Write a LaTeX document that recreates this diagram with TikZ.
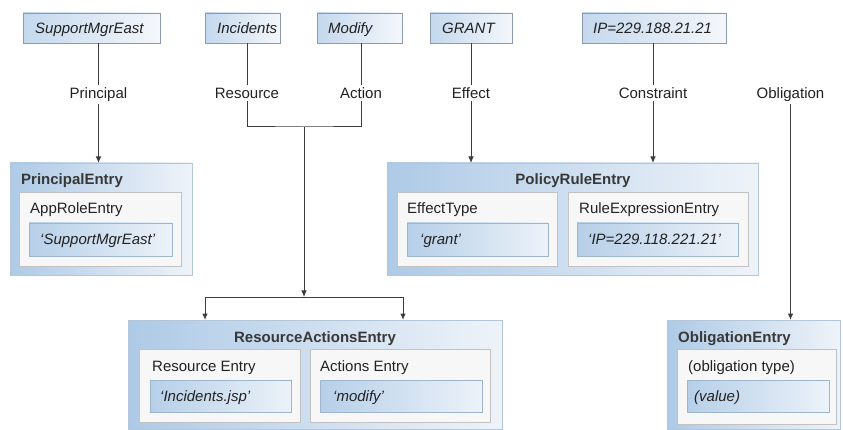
\documentclass[tikz,border=0pt]{standalone}
\usepackage{fontspec}
\setmainfont{Liberation Sans}
\usetikzlibrary{arrows.meta,fit,shadows}
\definecolor{obL}{HTML}{AECAE6}
\definecolor{obR}{HTML}{EEF3F9}
\definecolor{obLine}{HTML}{B4C7DA}
\definecolor{ibFill}{HTML}{F7F7F7}
\definecolor{ibLine}{HTML}{C2C2C2}
\definecolor{vbL}{HTML}{B6CFE8}
\definecolor{vbR}{HTML}{ECF2F9}
\definecolor{vbLine}{HTML}{9DB5CD}
\definecolor{tbL}{HTML}{C4D8ED}
\definecolor{tbR}{HTML}{F4F7FB}
\definecolor{tbLine}{HTML}{8C9BAB}
\definecolor{conn}{HTML}{3C3C3C}
\definecolor{txt}{HTML}{222222}
\tikzset{
  softshadow/.style={drop shadow={shadow xshift=0.8pt,shadow yshift=-1.2pt,opacity=0.3}},
  anybox/.style={inner sep=0pt,outer sep=0pt,line width=0.8pt},
  topbox/.style={anybox,draw=tbLine,left color=tbL,right color=tbR,softshadow},
  outerbox/.style={anybox,draw=obLine,left color=obL,right color=obR,softshadow},
  innerbox/.style={anybox,draw=ibLine,fill=ibFill,softshadow},
  valbox/.style={anybox,draw=vbLine,left color=vbL,right color=vbR,softshadow},
  txtl/.style={anchor=base west,inner sep=0pt,text=txt},
  txtc/.style={anchor=base,inner sep=0pt,text=txt},
  lbl/.style={anchor=base,inner sep=2.5pt,text=txt},
  title/.style={inner sep=0pt,text=txt!90,font=\fontsize{15}{18}\selectfont\bfseries},
  conline/.style={draw=conn,line width=1pt},
  arr/.style={conline,-{Latex[length=6.5pt,width=5.5pt]}},
  biarr/.style={conline,{Latex[length=6.5pt,width=5.5pt]}-{Latex[length=6.5pt,width=5.5pt]}},
}
\begin{document}
\begin{tikzpicture}[x=1pt,y=-1pt,font=\fontsize{15}{18}\selectfont]
\useasboundingbox (0,0) rectangle (843,430);
\fill[white] (0,0) rectangle (843,430);

% top boxes
\node[topbox,fit={(23,13) (160,43)}] (sme) {};
\node[txtl] (tsme) at (35,33.5) {\itshape SupportMgrEast};
\node[topbox,fit={(205,13) (280,43)}] (inc) {};
\node[txtl] (tinc) at (217,33.5) {\itshape Incidents};
\node[topbox,fit={(317,13) (402,43)}] (mod) {};
\node[txtl] (tmod) at (328,33.5) {\itshape Modify};
\node[topbox,fit={(430,13) (512,43)}] (grant) {};
\node[txtl] (tgrant) at (442,33.5) {\itshape GRANT};
\node[topbox,fit={(582,13) (726,43)}] (ip) {};
\node[txtl] (tip) at (593,33.5) {\itshape IP=229.188.21.21};

% labels
\node[lbl] (lPrin) at (98.5,98.5) {Principal};
\node[lbl] (lRes) at (247,98.5) {Resource};
\node[lbl] (lAct) at (361,98.5) {Action};
\node[lbl] (lEff) at (471,98.5) {Effect};
\node[lbl] (lCon) at (653,98.5) {Constraint};
\node[lbl] (lObl) at (790.5,98.5) {Obligation};

% PrincipalEntry
\node[outerbox,fit={(10,163) (192,275)}] (pe) {};
\node[title,anchor=base west] (tpe) at (21,184.5) {PrincipalEntry};
\node[innerbox,fit={(19,192) (181,266)}] (are) {};
\node[txtl] (tare) at (30,213.5) {AppRoleEntry};
\node[valbox,fit={(29,223) (172,256)}] (vare) {};
\node[txtl] (tvare) at (40,245) {\itshape ‘SupportMgrEast’};

% PolicyRuleEntry
\node[outerbox,fit={(387,163) (758,275)}] (pre) {};
\node[title,anchor=base] (tpre) at (573,184.5) {PolicyRuleEntry};
\node[innerbox,fit={(397,192) (557,266)}] (et) {};
\node[txtl] (tet) at (407,213.5) {EffectType};
\node[valbox,fit={(407,223) (548,256)}] (vet) {};
\node[txtl] (tvet) at (420,245) {\itshape ‘grant’};
\node[innerbox,fit={(568,192) (748,266)}] (ree) {};
\node[txtl] (tree) at (579,213.5) {RuleExpressionEntry};
\node[valbox,fit={(577,223) (738,256)}] (vree) {};
\node[txtl] (tvree) at (588,245) {\itshape ‘IP=229.118.221.21’};

% ResourceActionsEntry
\node[outerbox,fit={(128,320) (502,429)}] (rae) {};
\node[title,anchor=base] (trae) at (315,342.5) {ResourceActionsEntry};
\node[innerbox,fit={(139,349) (300,422)}] (re) {};
\node[txtl] (tre) at (152,371) {Resource Entry};
\node[valbox,fit={(150,380) (291,412)}] (vre) {};
\node[txtl] (tvre) at (160,401.5) {\itshape ‘Incidents.jsp’};
\node[innerbox,fit={(310,349) (490,422)}] (ae) {};
\node[txtl] (tae) at (320,371) {Actions Entry};
\node[valbox,fit={(320,380) (482,412)}] (vae) {};
\node[txtl] (tvae) at (333,401.5) {\itshape ‘modify’};

% ObligationEntry
\node[outerbox,fit={(667,320) (840,429)}] (oe) {};
\node[title,anchor=base west] (toe) at (678,342.5) {ObligationEntry};
\node[innerbox,fit={(677,349) (836,424)}] (ot) {};
\node[txtl] (tot) at (688,371) {(obligation type)};
\node[valbox,fit={(687,380) (829,412)}] (vot) {};
\node[txtl] (tvot) at (694,401.5) {\itshape (value)};

% connectors
\draw[conline] (sme.south -| lPrin) -- (lPrin.north);
\draw[arr] (lPrin.south) -- (lPrin.south |- pe.north);

\draw[conline] (inc.south -| lRes) -- (lRes.north);
\draw[conline] (mod.south -| lAct) -- (lAct.north);
\coordinate (j) at (304,127);
\coordinate (b) at (304,297);
\draw[conline] (lRes.south) |- (j) -| (lAct.south);
\draw[arr] (j) -- (b);
\coordinate (bl) at (205,297);
\coordinate (br) at (403,297);
\draw[biarr] (bl |- rae.north) -- (bl) -- (br) -- (br |- rae.north);

\draw[conline] (grant.south -| lEff) -- (lEff.north);
\draw[arr] (lEff.south) -- (lEff.south |- pre.north);
\draw[conline] (ip.south -| lCon) -- (lCon.north);
\draw[arr] (lCon.south) -- (lCon.south |- pre.north);

\draw[arr] (lObl.south) -- (lObl.south |- oe.north);
\end{tikzpicture}
\end{document}
